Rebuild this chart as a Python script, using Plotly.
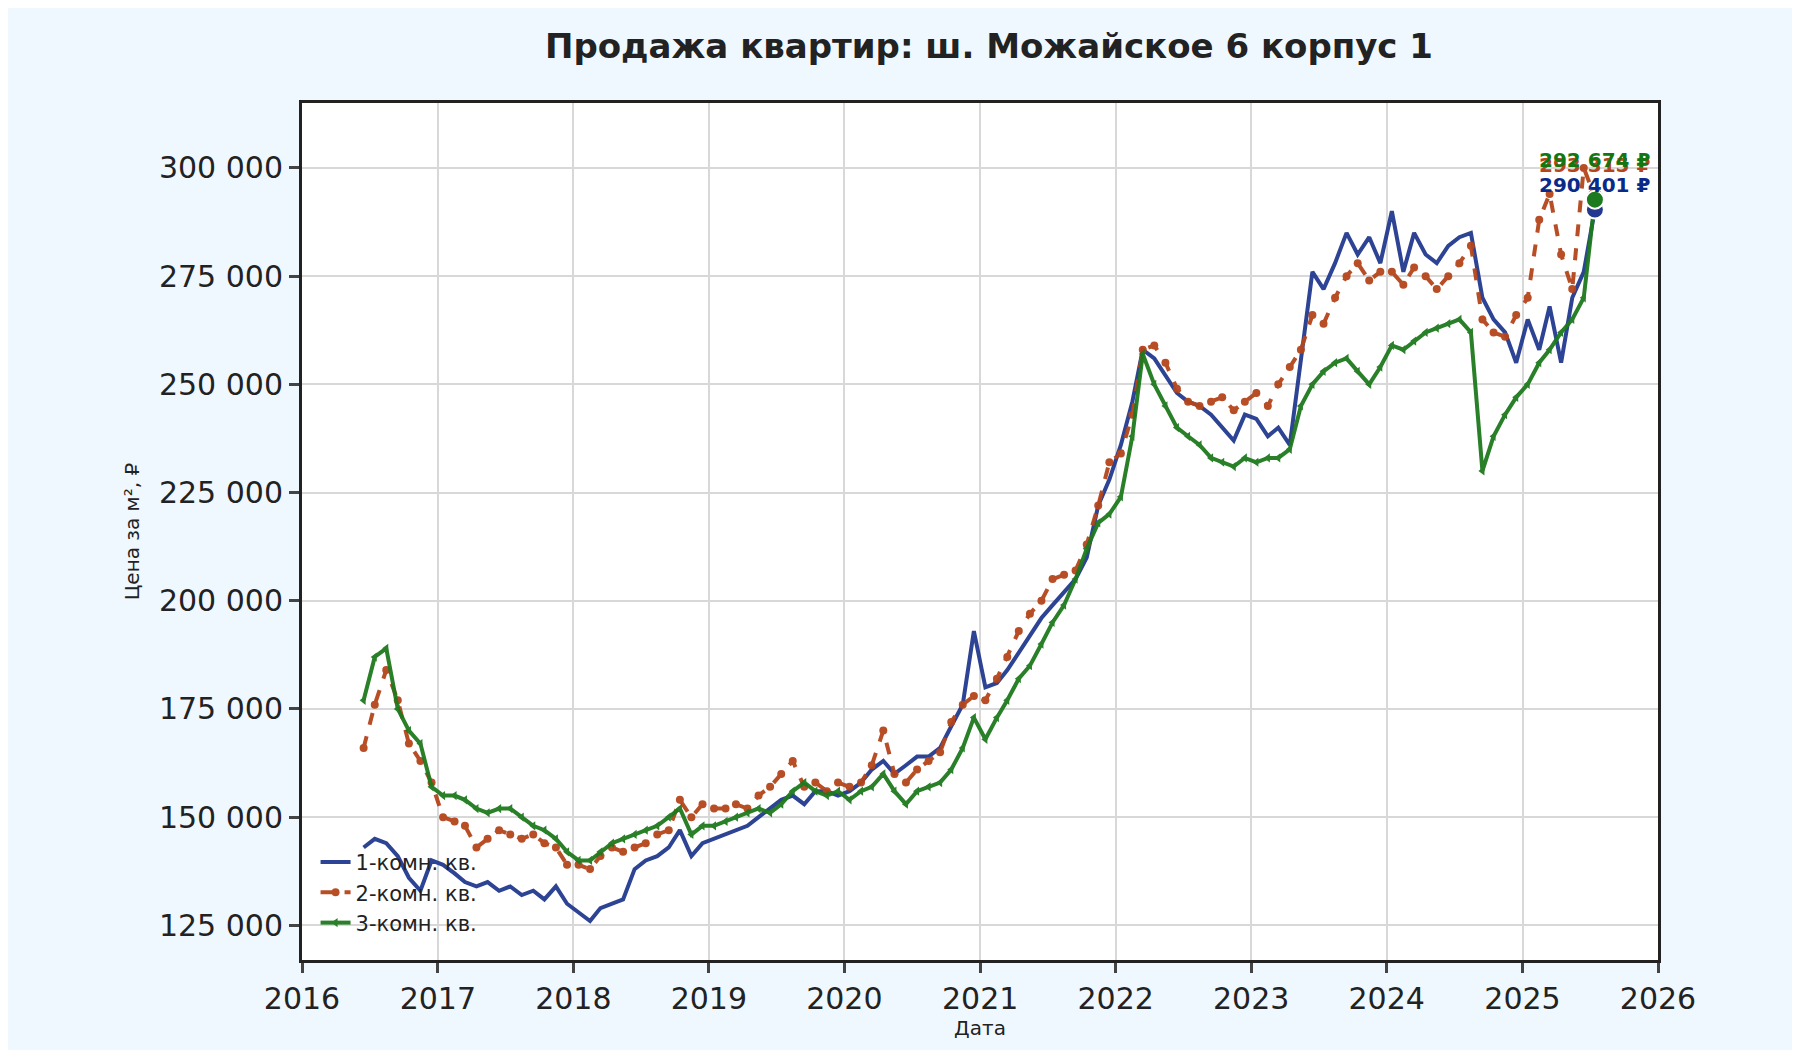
import pandas as pd
import plotly.graph_objects as go

dates = pd.date_range("2016-06-01", periods=110, freq="MS") + pd.Timedelta(days=14)

s1 = [143,145,144,141,136,133,140,
      139,137,135,134,135,133,134,132,133,131,134,130,
      128,126,129,130,131,138,140,141,143,147,141,144,
      145,146,147,148,150,152,154,155,153,156,156,155,
      156,158,161,163,160,162,164,164,166,171,176,193,
      180,181,184,188,192,196,199,202,205,210,222,228,
      236,246,258,256,252,248,246,245,243,240,237,243,
      242,238,240,236,255,276,272,278,285,280,284,278,
      290,276,285,280,278,282,284,285,270,265,262,255,
      265,258,268,255,270,276,290.401]
s2 = [166,176,184,177,167,163,158,
      150,149,148,143,145,147,146,145,146,144,143,139,
      139,138,141,143,142,143,144,146,147,154,150,153,
      152,152,153,152,155,157,160,163,157,158,156,158,
      157,158,162,170,160,158,161,163,165,172,176,178,
      177,182,187,193,197,200,205,206,207,213,222,232,
      234,243,258,259,255,249,246,245,246,247,244,246,
      248,245,250,254,258,266,264,270,275,278,274,276,
      276,273,277,275,272,275,278,282,265,262,261,266,
      270,288,294,280,272,300,293.315]
s3 = [177,187,189,175,170,167,157,
      155,155,154,152,151,152,152,150,148,147,145,142,
      140,140,142,144,145,146,147,148,150,152,146,148,
      148,149,150,151,152,151,153,156,158,156,155,156,
      154,156,157,160,156,153,156,157,158,161,166,173,
      168,173,177,182,185,190,195,199,205,212,218,220,
      224,238,257,250,245,240,238,236,233,232,231,233,
      232,233,233,235,245,250,253,255,256,253,250,254,
      259,258,260,262,263,264,265,262,230,238,243,247,
      250,255,258,262,265,270,292.674]
names = ["1-комн. кв.", "2-комн. кв.", "3-комн. кв."]
colors = ["#22398f", "#b5451b", "#1e7a1e"]
label_colors = ["#0a2a8a", "#b5451b", "#117711"]
labels = ["290 401 ₽", "293 315 ₽", "292 674 ₽"]
tickvals = [125000,150000,175000,200000,225000,250000,275000,300000]
ticktext = ["125 000","150 000","175 000","200 000","225 000","250 000","275 000","300 000"]

fig = go.Figure()
series = [s1, s2, s3]
dashes = ["solid", "dash", "solid"]
symbols = ["circle", "circle", "triangle-left"]
for i, s in enumerate(series):
    y = [v*1000 for v in s]
    mode = "lines" if i == 0 else "lines+markers"
    fig.add_trace(go.Scatter(x=dates, y=y, name=names[i], mode=mode,
        line=dict(color=colors[i], width=4, dash=dashes[i]),
        marker=dict(color=colors[i], size=8, symbol=symbols[i]), opacity=0.95))
for i, s in enumerate(series):
    fig.add_trace(go.Scatter(x=[dates[-1]], y=[s[-1]*1000], mode="markers", showlegend=False,
        marker=dict(size=18, color=colors[i], line=dict(color="white", width=2))))
for i, s in enumerate(series):
    fig.add_annotation(x=dates[-1], y=s[-1]*1000, text=f"<b>{labels[i]}</b>",
        showarrow=False, yshift=[24, 32, 40][i], xshift=0, font=dict(size=20, color=label_colors[i],
        family="DejaVu Sans"))

fig.update_layout(
    width=1800, height=1050, paper_bgcolor="#f0f8ff", plot_bgcolor="white",
    margin=dict(l=294, r=150, t=95, b=98),
    title=dict(text="<b>Продажа квартир: ш. Можайское 6 корпус 1</b>", x=0.545, xanchor="center",
               y=0.975, font=dict(size=34, family="DejaVu Sans", color="#222")),
    font=dict(family="DejaVu Sans", color="#222"),
    legend=dict(x=0.01, y=0.02, xanchor="left", yanchor="bottom", bgcolor="rgba(255,255,255,0)",
                font=dict(size=21)),
)
fig.update_xaxes(range=["2016-01-01", "2026-01-01"], dtick="M12", tickformat="%Y",
    showgrid=True, gridcolor="#d8d8d8", gridwidth=2, showline=True, linecolor="#222", linewidth=3,
    mirror=True, ticks="outside", ticklen=10, tickwidth=3, tickfont=dict(size=30),
    title=dict(text="Дата", font=dict(size=20), standoff=6))
fig.update_yaxes(range=[117000, 315000], tickvals=tickvals, ticktext=ticktext,
    showgrid=True, gridcolor="#d8d8d8", gridwidth=2, showline=True, linecolor="#222", linewidth=3,
    mirror=True, ticks="outside", ticklen=10, tickwidth=3, tickfont=dict(size=30),
    title=dict(text="Цена за м², ₽", font=dict(size=20), standoff=14))
fig.write_html("out.html")
